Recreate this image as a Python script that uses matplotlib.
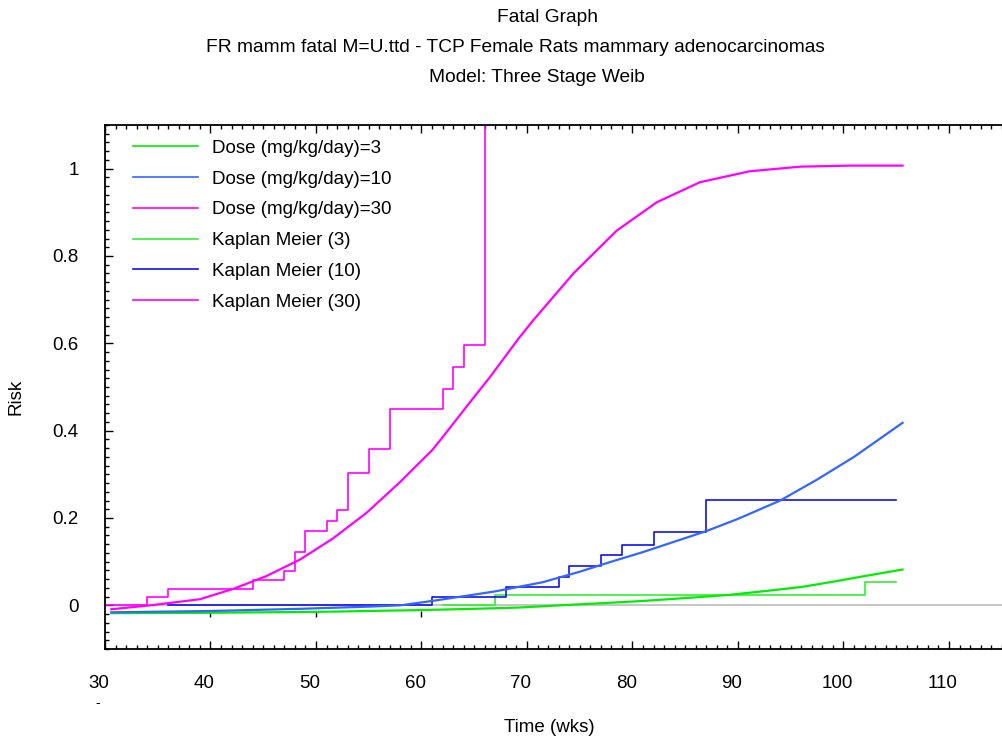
import matplotlib
matplotlib.use("Agg")
import matplotlib.pyplot as plt
from matplotlib.ticker import MultipleLocator
from matplotlib.transforms import ScaledTranslation

plt.rcParams['font.family'] = ['Liberation Sans', 'DejaVu Sans']

# fitted model curves (Three Stage Weibull)
model_t3 = [30.6, 40, 50, 59.6, 65, 69.3, 74.7, 78, 81, 84, 86.4, 89.2, 92.7, 96, 99, 102, 105.6]
model_r3 = [-0.018, -0.017, -0.015, -0.011, -0.008, -0.005, 0.002, 0.006, 0.010, 0.015, 0.019, 0.024,
            0.033, 0.042, 0.054, 0.067, 0.082]

model_t10 = [30.6, 40, 48.5, 55, 58, 61, 64.3, 67, 71.5, 75, 78, 81, 84, 87, 90, 94, 97.5, 101, 105.6]
model_r10 = [-0.016, -0.013, -0.008, -0.003, 0.0, 0.010, 0.022, 0.032, 0.053, 0.077, 0.100, 0.122,
             0.146, 0.170, 0.198, 0.240, 0.288, 0.340, 0.418]

model_t30 = [30.6, 34.3, 39, 42.2, 45.3, 48.5, 51.6, 54.8, 58, 59.2, 61, 62.1, 64.3, 66.5, 69.3, 70.6,
             74.4, 78.5, 82.3, 86.4, 91.1, 95.9, 100.6, 105.6]
model_r30 = [-0.009, 0.0, 0.014, 0.038, 0.067, 0.105, 0.153, 0.212, 0.283, 0.312, 0.355, 0.388, 0.456,
             0.523, 0.614, 0.653, 0.760, 0.858, 0.923, 0.969, 0.994, 1.0046, 1.007, 1.007]

# Kaplan Meier step data
km_t3 = [62, 67, 102, 105]
km_r3 = [0, 0.023, 0.0525, 0.0525]

km_t10 = [36, 61, 68, 73, 74, 77, 79, 82, 87, 105]
km_r10 = [0, 0.019, 0.042, 0.065, 0.090, 0.115, 0.1385, 0.168, 0.2405, 0.2405]

km_t30 = [30, 34, 36, 44, 47, 48, 49, 51, 52, 53, 55, 57, 62, 63, 64, 66]
km_r30 = [0, 0.020, 0.038, 0.058, 0.078, 0.123, 0.170, 0.193, 0.218, 0.303, 0.358, 0.450, 0.496,
          0.546, 0.597, 1.2]

xticks = [30, 40, 50, 60, 70, 80, 90, 100, 110]
yticks = [0, 0.2, 0.4, 0.6, 0.8, 1.0]
ytick_labels = ['0', '0.2', '0.4', '0.6', '0.8', '1']

FS = 13.5

fig = plt.figure(figsize=(10.03, 7.38), dpi=100)
ax = fig.add_axes([105 / 1003, 1 - 649 / 738, 898 / 1003, 524 / 738])

ax.axhline(0, color='#c0c0c0', lw=1.3, zorder=1)

ax.plot(model_t3, model_r3, color='#00ee00', lw=1.6, label='Dose (mg/kg/day)=3', zorder=3)
ax.plot(model_t10, model_r10, color='#3366ff', lw=1.6, label='Dose (mg/kg/day)=10', zorder=3)
ax.plot(model_t30, model_r30, color='#ff00ff', lw=1.6, label='Dose (mg/kg/day)=30', zorder=3)
ax.plot(km_t3, km_r3, color='#33ee33', lw=1.2, drawstyle='steps-post', label='Kaplan Meier (3)', zorder=2)
ax.plot(km_t10, km_r10, color='#1010ee', lw=1.2, drawstyle='steps-post', label='Kaplan Meier (10)', zorder=2)
ax.plot(km_t30, km_r30, color='#ff00ff', lw=1.2, drawstyle='steps-post', label='Kaplan Meier (30)', zorder=2)

ax.set_xlim(30, 115.12)
ax.set_ylim(-0.1, 1.1)

ax.set_xticks(xticks)
ax.xaxis.set_minor_locator(MultipleLocator(1))
ax.set_yticks(yticks)
ax.set_yticklabels(ytick_labels)
ax.yaxis.set_minor_locator(MultipleLocator(0.02))

ax.spines['right'].set_visible(False)
for s in ['left', 'bottom', 'top']:
    ax.spines[s].set_linewidth(1.3)

ax.tick_params(which='both', direction='in', top=True, right=False, width=1.0, labelsize=FS)
ax.tick_params(which='major', length=5.5)
ax.tick_params(which='minor', length=2.8)
ax.tick_params(axis='x', pad=19)
ax.tick_params(axis='y', pad=19)

# x tick labels sit a little left of their ticks in the original
shift = ScaledTranslation(-6 / 100, 0, fig.dpi_scale_trans)
for lab in ax.get_xticklabels():
    lab.set_transform(lab.get_transform() + shift)

# stray short ticks just under the zero line
sec = ax.secondary_xaxis(-0.02, transform=ax.transData)
sec.set_xticks([40, 50, 60])
sec.set_xticklabels([])
sec.spines['bottom'].set_visible(False)
sec.tick_params(direction='inout', length=4, width=1.0)

leg = ax.legend(loc='upper left', bbox_to_anchor=(0.031, 0.972), frameon=False, fontsize=FS,
                handlelength=3.45, handletextpad=0.75, labelspacing=0.73, borderpad=0, borderaxespad=0)
for h in leg.get_lines():
    h.set_linewidth(1.2)

TFS = 13.8
fig.text(548 / 1003, 1 - 18 / 738, 'Fatal Graph', ha='center', va='center', fontsize=TFS)
fig.text(515 / 1003, 1 - 48 / 738,
         'FR mamm fatal M=U.ttd - TCP Female Rats mammary adenocarcinomas',
         ha='center', va='center', fontsize=TFS)
fig.text(537 / 1003, 1 - 78 / 738, 'Model: Three Stage Weib', ha='center', va='center', fontsize=TFS)

fig.text(549 / 1003, 1 - 727 / 738, 'Time (wks)', ha='center', va='center', fontsize=FS)
fig.text(16 / 1003, 1 - 397 / 738, 'Risk', ha='center', va='center', rotation=90, fontsize=FS)
fig.text(98 / 1003, 1 - 703 / 738, '-', ha='center', va='center', fontsize=10)

fig.savefig('out.png', dpi=100)
